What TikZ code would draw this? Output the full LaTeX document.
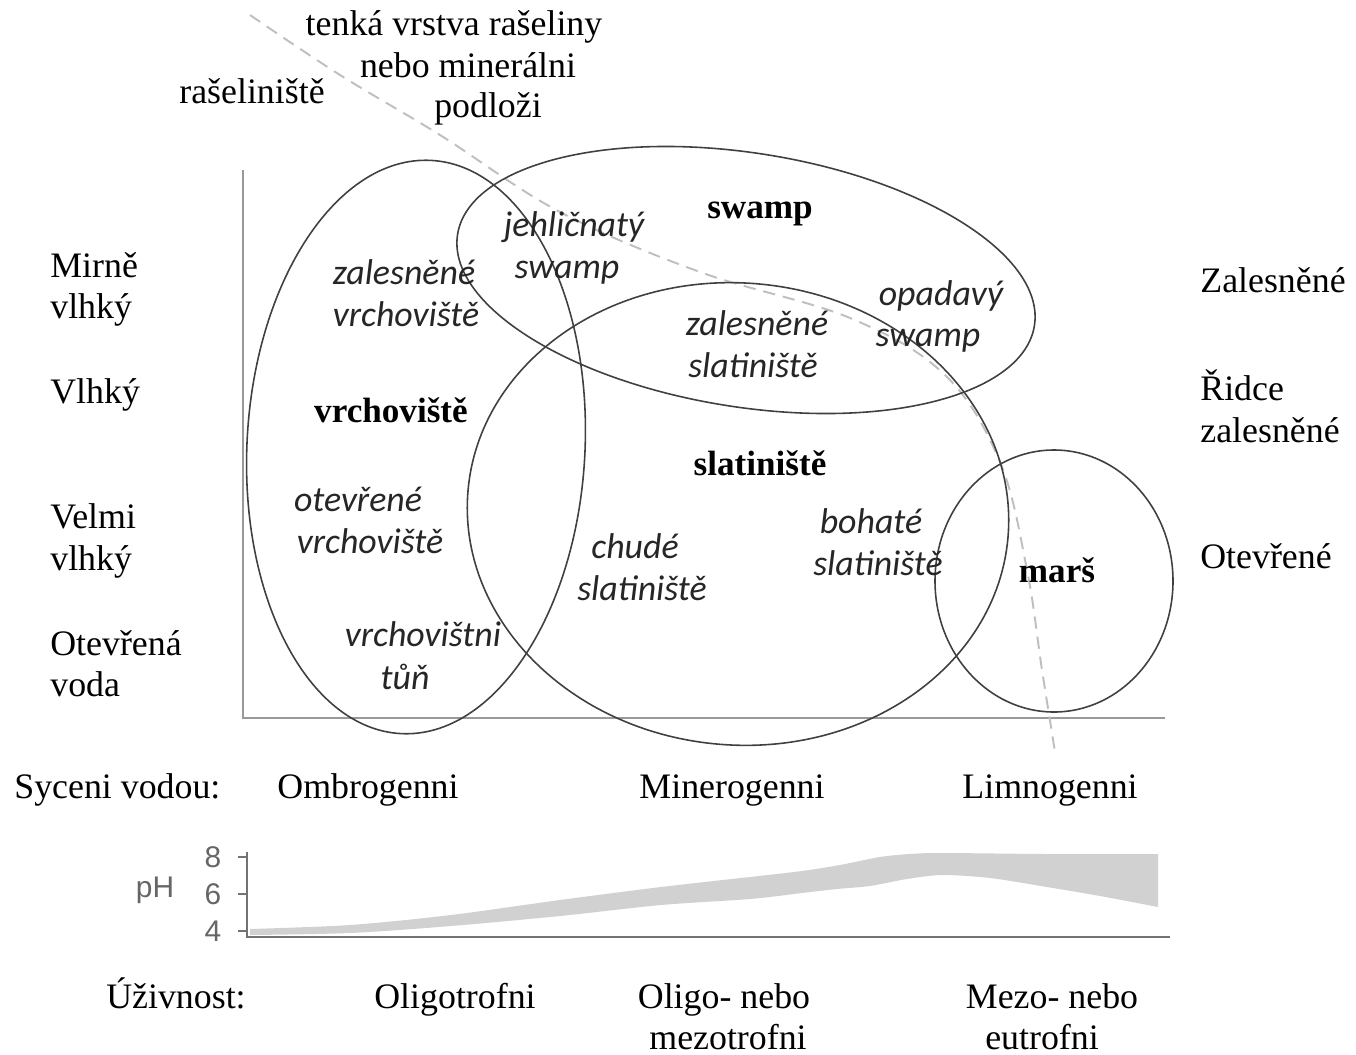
\documentclass[tikz,border=0pt]{standalone}
\usepackage{fontspec}
\setmainfont{Liberation Serif}
\newfontfamily\calfont{Carlito}
\newfontfamily\arialf{Liberation Sans}
\begin{document}
\begin{tikzpicture}[x=0.02cm,y=-0.02cm,
  txt/.style={inner sep=0pt, font=\fontsize{20.4}{24}\selectfont},
  bld/.style={inner sep=0pt, font=\fontsize{20}{24}\selectfont\bfseries},
  itl/.style={inner sep=0pt, font=\calfont\itshape\fontsize{20.4}{24}\selectfont, text=black!85},
  sml/.style={inner sep=0pt, font=\arialf\fontsize{17}{20}\selectfont, text=black!60},
  ell/.style={draw=black!75, line width=0.9pt},
  axis/.style={draw=black!40, line width=1.5pt},
  phaxis/.style={draw=black!55, line width=1.3pt},
  divider/.style={draw=black!25, line width=1.1pt, dash pattern=on 7pt off 4.5pt},
  band/.style={fill=black!18}
]
\useasboundingbox (0,0) rectangle (1356,1055);
\fill[white] (0,0) rectangle (1356,1055);

% main axes
\coordinate (ytop) at (243,170);
\coordinate (orig) at (243,718);
\coordinate (xend) at (1165,718);
\draw[axis] (ytop) -- (orig) -- (xend);

% dashed divider
\draw[divider] plot[smooth, tension=0.6] coordinates {(250,15) (340,75) (440,135) (560,212) (700,272) (850,318) (945,375) (1000,462) (1027,570) (1042,670) (1055,752)};

% ellipses
\draw[ell, rotate around={-3:(416,447)}] (416,447) ellipse [x radius=169, y radius=287];
\draw[ell, rotate around={-9:(746,280)}] (746,280) ellipse [x radius=292, y radius=127];
\draw[ell, rotate around={-5:(738,514)}] (738,514) ellipse [x radius=271, y radius=231];
\draw[ell] (1054,581) ellipse [x radius=119, y radius=131];

% top labels
\node[txt, anchor=base] (t1) at (454,35) {tenká vrstva rašeliny};
\node[txt, anchor=base] (t2) at (468,77) {nebo minerálni};
\node[txt, anchor=base] (t3) at (488,117) {podloži};
\node[txt, anchor=base] (rasel) at (252,103) {rašeliniště};

% left labels
\node[txt, anchor=base west] (l1) at (50,277) {Mirně};
\node[txt, anchor=base west] (l2) at (50,318) {vlhký};
\node[txt, anchor=base west] (l3) at (50,403) {Vlhký};
\node[txt, anchor=base west] (l4) at (50,528) {Velmi};
\node[txt, anchor=base west] (l5) at (50,570) {vlhký};
\node[txt, anchor=base west] (l6) at (50,655) {Otevřená};
\node[txt, anchor=base west] (l7) at (50,696) {voda};

% right labels
\node[txt, anchor=base west] (r1) at (1200,292) {Zalesněné};
\node[txt, anchor=base west] (r2) at (1200,400) {Řidce};
\node[txt, anchor=base west] (r3) at (1200,442) {zalesněné};
\node[txt, anchor=base west] (r4) at (1200,568) {Otevřené};

% category labels
\node[bld, anchor=base] (swamp) at (760,218) {swamp};
\node[bld, anchor=base] (vrch) at (391,422) {vrchoviště};
\node[bld, anchor=base] (slat) at (760,475) {slatiniště};
\node[bld, anchor=base] (mars) at (1057,582) {marš};

% italic labels
\node[itl, anchor=base] (i1a) at (404,284) {zalesněné};
\node[itl, anchor=base] (i1b) at (406,326) {vrchoviště};
\node[itl, anchor=base] (i2a) at (574,236) {jehličnatý};
\node[itl, anchor=base] (i2b) at (567,278) {swamp};
\node[itl, anchor=base] (i3a) at (941,305) {opadavý};
\node[itl, anchor=base] (i3b) at (928,346) {swamp};
\node[itl, anchor=base] (i4a) at (757,335) {zalesněné};
\node[itl, anchor=base] (i4b) at (753,377) {slatiniště};
\node[itl, anchor=base] (i5a) at (358,511) {otevřené};
\node[itl, anchor=base] (i5b) at (370,553) {vrchoviště};
\node[itl, anchor=base] (i6a) at (635,558) {chudé};
\node[itl, anchor=base] (i6b) at (642,600) {slatiniště};
\node[itl, anchor=base] (i7a) at (871,533) {bohaté};
\node[itl, anchor=base] (i7b) at (878,575) {slatiniště};
\node[itl, anchor=base] (i8a) at (423,646) {vrchovištni};
\node[itl, anchor=base] (i8b) at (405,689) {tůň};

% water source
\node[txt, anchor=base west] (syc) at (14,798) {Syceni vodou:};
\node[txt, anchor=base] (omb) at (368,798) {Ombrogenni};
\node[txt, anchor=base] (min) at (732,798) {Minerogenni};
\node[txt, anchor=base] (lim) at (1050,798) {Limnogenni};

% pH chart
\fill[band] plot[smooth, tension=0.5] coordinates {(250,929) (350,925) (451,915) (560,900) (661,887) (750,877) (802,871) (840,865) (880,857) (910,854) (942,853) (1047,854) (1158,854)}
  -- plot[smooth, tension=0.5] coordinates {(1158,907) (1100,896) (1047,887) (990,878) (942,875) (907,879) (870,886) (837,889) (802,893) (750,899) (661,905) (560,916) (451,926) (350,933) (250,935)} -- cycle;
\coordinate (phtop) at (247,852);
\coordinate (phorig) at (247,937);
\coordinate (phend) at (1170,937);
\draw[phaxis] (phtop) -- (phorig) -- (phend);
\coordinate (k8) at (238,857);
\coordinate (k6) at (238,894);
\coordinate (k4) at (238,931);
\draw[phaxis, line width=0.9pt] (k8) -- +(9,0) (k6) -- +(9,0) (k4) -- +(9,0);
\node[sml] (n8) at (213,857) {8};
\node[sml] (n6) at (213,894) {6};
\node[sml] (n4) at (213,931) {4};
\node[sml] (ph) at (155,890) {pH};

% nutrients
\node[txt, anchor=base] (uzi) at (176,1008) {Úživnost:};
\node[txt, anchor=base] (olig) at (455,1008) {Oligotrofni};
\node[txt, anchor=base] (om1) at (724,1008) {Oligo- nebo};
\node[txt, anchor=base] (om2) at (728,1049) {mezotrofni};
\node[txt, anchor=base] (me1) at (1052,1008) {Mezo- nebo};
\node[txt, anchor=base] (me2) at (1042,1049) {eutrofni};
\end{tikzpicture}
\end{document}
